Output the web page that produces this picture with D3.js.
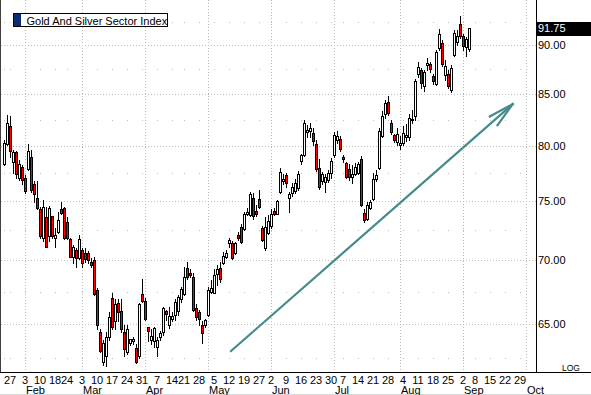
<!DOCTYPE html>
<html>
<head>
<meta charset="utf-8">
<script src="https://cdnjs.cloudflare.com/ajax/libs/d3/7.8.5/d3.min.js"></script>
<style>
  body { margin: 0; background: #fff; }
  svg { display: block; font-family: "Liberation Sans", Arial, sans-serif; }
</style>
</head>
<body>
<div id="chart"></div>
<script>
var width = 591, height = 395;
var plotRight = 536, plotBottom = 372;

// trading calendar (2003), first bar is Jan 23
var firstDay = "2003-01-23", lastDay = "2003-10-03";
var holidays = ["2003-02-17", "2003-04-18", "2003-05-26", "2003-07-04", "2003-09-01"];

// daily bars
var open = [
  78.3, 80.2, 81.9, 78.5, 79.4, 77.1, 78.1, 77.1, 77.9, 79.0,
  76.5, 75.3, 74.3, 71.9, 73.6, 72.0, 73.7, 71.9, 72.4, 74.3,
  74.4, 73.2, 71.8, 70.3, 70.9, 70.2, 70.9, 70.6, 70.6, 69.9,
  70.0, 67.6, 64.4, 62.2, 62.6, 64.0, 67.0, 65.2, 66.6, 66.0,
  64.4, 62.9, 63.6, 63.7, 63.2, 62.6, 67.3, 66.8, 64.8, 63.8,
  63.7, 63.3, 64.0, 64.4, 66.0, 64.9, 65.4, 65.7, 66.0, 66.9,
  67.3, 69.4, 69.0, 68.7, 66.2, 65.9, 64.9, 64.9, 65.7, 67.5,
  67.4, 68.9, 69.4, 69.8, 70.3, 71.4, 71.4, 70.6, 72.1, 72.8,
  72.6, 73.9, 73.8, 75.3, 74.2, 75.2, 72.7, 71.0, 72.3, 72.9,
  74.2, 73.9, 75.8, 76.8, 77.3, 75.3, 75.7, 75.9, 76.2, 78.6,
  79.2, 81.3, 81.4, 81.2, 80.2, 78.0, 76.8, 76.7, 76.9, 77.5,
  79.2, 80.6, 80.7, 79.0, 78.4, 77.9, 77.2, 77.4, 77.5, 78.8,
  74.0, 73.5, 74.4, 75.2, 77.0, 78.0, 80.9, 83.0, 84.2, 82.2,
  81.0, 80.4, 80.1, 80.3, 80.8, 80.8, 82.5, 82.8, 87.0, 87.4,
  85.8, 87.9, 88.0, 86.8, 86.0, 89.7, 90.2, 86.9, 87.0, 85.4,
  89.0, 90.3, 92.2, 90.9, 89.8, 89.6
];
var high = [
  80.6, 82.9, 82.8, 79.6, 79.5, 78.7, 78.2, 77.3, 80.2, 79.6,
  76.8, 76.8, 74.5, 75.1, 74.5, 74.6, 73.7, 72.7, 74.1, 74.9,
  74.5, 73.6, 71.9, 71.3, 71.0, 72.1, 71.0, 71.0, 70.8, 70.2,
  70.3, 67.8, 64.6, 63.8, 64.4, 65.9, 67.4, 66.9, 66.9, 66.9,
  64.9, 64.9, 63.9, 64.0, 63.5, 66.6, 68.5, 67.0, 64.8, 64.6,
  64.8, 64.0, 64.5, 66.3, 66.1, 66.3, 65.9, 66.9, 67.2, 67.9,
  69.5, 69.9, 69.3, 69.0, 66.5, 66.1, 65.2, 65.4, 67.9, 68.4,
  69.3, 69.6, 69.9, 70.7, 70.9, 71.9, 71.6, 71.5, 72.4, 73.0,
  74.1, 74.4, 75.8, 75.7, 74.7, 76.0, 72.9, 73.6, 73.8, 74.3,
  74.4, 75.1, 78.0, 77.4, 77.5, 75.8, 76.6, 77.0, 77.7, 79.3,
  82.5, 82.0, 82.2, 81.7, 80.6, 78.8, 77.6, 77.4, 77.8, 78.9,
  81.3, 81.4, 80.9, 79.2, 78.5, 78.3, 78.2, 78.4, 78.5, 79.1,
  74.3, 74.9, 75.1, 77.5, 77.8, 81.7, 83.3, 84.4, 84.8, 82.5,
  81.1, 81.7, 80.9, 81.9, 82.1, 83.0, 83.4, 86.5, 88.2, 87.6,
  87.4, 88.6, 88.2, 87.0, 89.5, 91.7, 90.5, 88.4, 87.4, 87.9,
  91.6, 91.6, 93.1, 91.2, 90.8, 91.8
];
var low = [
  78.2, 80.1, 79.0, 77.5, 77.1, 76.9, 76.5, 75.7, 77.8, 75.8,
  74.9, 74.3, 71.9, 71.6, 71.1, 71.6, 71.9, 71.1, 72.3, 73.9,
  71.8, 71.8, 70.3, 69.8, 69.5, 70.1, 69.5, 69.9, 69.8, 69.5,
  67.2, 64.6, 62.9, 62.0, 61.9, 63.8, 64.6, 64.6, 65.2, 64.4,
  62.6, 62.8, 63.4, 63.5, 62.1, 62.5, 66.7, 65.3, 63.7, 63.5,
  63.3, 62.6, 63.8, 64.2, 65.3, 64.7, 65.2, 65.3, 65.7, 66.7,
  67.2, 68.5, 68.7, 66.0, 65.3, 64.9, 63.6, 64.8, 65.6, 67.4,
  67.4, 68.0, 68.3, 69.7, 70.2, 71.1, 70.1, 70.5, 71.7, 71.4,
  72.5, 73.8, 73.7, 73.5, 73.7, 74.4, 71.6, 70.9, 72.2, 72.7,
  73.8, 73.9, 75.7, 76.5, 76.3, 74.1, 75.5, 75.7, 76.0, 78.3,
  79.1, 80.8, 80.8, 80.1, 77.7, 76.1, 76.5, 75.8, 76.7, 77.1,
  79.0, 80.3, 79.5, 78.5, 77.1, 76.9, 76.6, 77.3, 77.4, 74.6,
  73.2, 73.4, 74.3, 75.1, 76.8, 77.9, 80.8, 82.7, 82.9, 81.1,
  80.4, 80.1, 79.7, 80.1, 80.5, 80.6, 82.2, 82.5, 86.7, 85.6,
  85.3, 87.4, 87.2, 86.0, 85.9, 89.5, 87.8, 86.4, 85.6, 85.2,
  88.9, 90.0, 90.7, 89.5, 88.9, 89.4
];
var close = [
  80.3, 82.2, 79.5, 79.4, 77.4, 78.3, 76.9, 75.9, 79.5, 76.0,
  75.6, 74.4, 72.0, 74.5, 71.1, 74.4, 72.0, 72.1, 73.4, 74.0,
  71.9, 71.9, 70.3, 71.1, 70.2, 71.8, 69.8, 70.1, 70.0, 69.6,
  67.3, 64.9, 63.0, 63.6, 64.0, 65.5, 64.8, 66.5, 65.9, 64.6,
  63.1, 64.6, 63.9, 63.9, 62.2, 66.5, 66.8, 65.4, 64.5, 64.1,
  64.7, 63.8, 64.3, 66.2, 65.8, 65.6, 65.6, 66.7, 67.1, 67.7,
  68.7, 68.7, 68.8, 66.1, 65.5, 65.4, 64.3, 65.3, 67.6, 67.8,
  68.8, 69.3, 68.5, 70.4, 70.6, 71.7, 70.2, 71.4, 71.9, 71.5,
  73.9, 74.1, 75.6, 73.7, 73.9, 74.5, 71.7, 72.8, 73.3, 73.9,
  73.9, 75.0, 77.6, 77.0, 76.6, 75.6, 76.3, 76.6, 77.4, 79.2,
  82.2, 81.5, 81.7, 80.5, 77.9, 76.3, 77.4, 77.2, 77.5, 78.6,
  81.0, 80.9, 79.7, 78.8, 77.2, 77.2, 77.4, 78.1, 78.3, 74.7,
  73.4, 74.7, 74.9, 77.0, 77.3, 81.4, 82.8, 84.1, 83.1, 81.3,
  80.6, 81.1, 80.3, 81.2, 81.0, 82.7, 82.6, 86.3, 87.7, 86.1,
  87.2, 88.1, 87.5, 86.3, 89.3, 91.2, 88.0, 87.8, 85.8, 87.6,
  91.3, 90.9, 90.9, 89.9, 90.6, 91.75
];

var priceTicks = [65, 70, 75, 80, 85, 90];
var halfLevels = [62.5, 67.5, 72.5, 77.5, 82.5, 87.5, 92.5];
var lastPrice = 91.75;
var seriesName = "Gold And Silver Sector Index";
// trend arrow, in bar index / price
var arrowFrom = {k: 75.5, price: 62.98};
var arrowTo = {k: 169.4, price: 84.0};

var parse = d3.timeParse("%Y-%m-%d");
var fmt = d3.timeFormat("%Y-%m-%d");
var days = d3.timeDay.range(parse(firstDay), d3.timeDay.offset(parse(lastDay), 1))
  .filter(function(d) { return d.getDay() > 0 && d.getDay() < 6 && holidays.indexOf(fmt(d)) < 0; });

var bars = open.map(function(o, k) {
  return {k: k, open: o, high: high[k], low: low[k], close: close[k]};
});

// first trading day of each week / month
var weekStarts = [], monthStarts = [];
days.forEach(function(d, k) {
  if (k == 0) return;
  var p = days[k - 1];
  if (d.getDay() < p.getDay() || (d - p) > 4 * 864e5) weekStarts.push({k: k, date: d});
  if (d.getMonth() != p.getMonth()) monthStarts.push({k: k, date: d});
});

var x = d3.scaleLinear().domain([2, 174]).range([10.5, 526.5]);
var y = d3.scaleLog().domain([65, 90]).range([324, 45]);

var svg = d3.select("#chart").append("svg")
  .attr("width", width)
  .attr("height", height);

var grid = svg.append("g").attr("shape-rendering", "crispEdges");

// horizontal dotted grid at the price ticks
grid.selectAll("line.h")
  .data(priceTicks)
  .enter().append("line")
  .attr("x1", 1).attr("x2", plotRight)
  .attr("y1", function(d) { return Math.round(y(d)) + 0.5; })
  .attr("y2", function(d) { return Math.round(y(d)) + 0.5; })
  .style("stroke", "#bdbdbd")
  .style("stroke-dasharray", "1,2");

// vertical dotted grid at month starts
grid.selectAll("line.v")
  .data(monthStarts)
  .enter().append("line")
  .attr("x1", function(d) { return Math.floor(x(d.k)) + 0.5; })
  .attr("x2", function(d) { return Math.floor(x(d.k)) + 0.5; })
  .attr("y1", 0).attr("y2", plotBottom)
  .style("stroke", "#bdbdbd")
  .style("stroke-dasharray", "1,2");

// sparse dots: weeks x half levels
var dots = [];
[{k: 0}].concat(weekStarts).forEach(function(w) {
  halfLevels.forEach(function(l) { dots.push({k: w.k, level: l}); });
});
grid.selectAll("rect.dot")
  .data(dots)
  .enter().append("rect")
  .attr("x", function(d) { return Math.floor(x(d.k)); })
  .attr("y", function(d) { return Math.round(y(d.level)); })
  .attr("width", 1).attr("height", 1)
  .style("fill", "#bdbdbd");

// candles
var candles = svg.append("g").attr("shape-rendering", "crispEdges");
candles.selectAll("line.wick")
  .data(bars)
  .enter().append("line")
  .attr("x1", function(d) { return x(d.k); })
  .attr("x2", function(d) { return x(d.k); })
  .attr("y1", function(d) { return Math.round(y(d.high)); })
  .attr("y2", function(d) { return Math.round(y(d.low)) + 1; })
  .style("stroke", "#000");

candles.selectAll("rect.body")
  .data(bars)
  .enter().append("rect")
  .attr("x", function(d) { return x(d.k) - 1; })
  .attr("y", function(d) { return Math.round(y(Math.max(d.open, d.close))) + 0.5; })
  .attr("width", 2)
  .attr("height", function(d) {
    var h = Math.round(y(Math.min(d.open, d.close))) - Math.round(y(Math.max(d.open, d.close)));
    return Math.max(h, 1);
  })
  .style("fill", function(d) { return d.close < d.open ? "#ff0000" : "#ffffff"; })
  .style("stroke", "#000");

// trend arrow
var ax0 = x(arrowFrom.k), ay0 = y(arrowFrom.price);
var ax1 = x(arrowTo.k), ay1 = y(arrowTo.price);
var ang = Math.atan2(ay0 - ay1, ax0 - ax1);
var barb = 26, spread = 13 * Math.PI / 180;
var arrowLines = [
  [ax0, ay0, ax1, ay1],
  [ax1, ay1, ax1 + barb * Math.cos(ang - spread), ay1 + barb * Math.sin(ang - spread)],
  [ax1, ay1, ax1 + barb * Math.cos(ang + spread), ay1 + barb * Math.sin(ang + spread)]
];
svg.append("g").selectAll("line")
  .data(arrowLines)
  .enter().append("line")
  .attr("x1", function(d) { return d[0]; })
  .attr("y1", function(d) { return d[1]; })
  .attr("x2", function(d) { return d[2]; })
  .attr("y2", function(d) { return d[3]; })
  .style("stroke", "#468a8a")
  .style("stroke-width", 2.2)
  .style("stroke-linecap", "square");

// frame
var frame = svg.append("g").attr("shape-rendering", "crispEdges");
frame.append("line").attr("x1", 0.5).attr("x2", 0.5).attr("y1", 0).attr("y2", plotBottom)
  .style("stroke", "#404040");
frame.append("line").attr("x1", plotRight + 0.5).attr("x2", plotRight + 0.5).attr("y1", 0).attr("y2", plotBottom)
  .style("stroke", "#000");
frame.append("line").attr("x1", 0).attr("x2", width).attr("y1", plotBottom + 0.5).attr("y2", plotBottom + 0.5)
  .style("stroke", "#000");
frame.append("line").attr("x1", 0).attr("x2", width).attr("y1", height - 0.5).attr("y2", height - 0.5)
  .style("stroke", "#d8d8d8");

// right price axis
svg.append("g").selectAll("text")
  .data(priceTicks)
  .enter().append("text")
  .attr("x", plotRight + 2)
  .attr("y", function(d) { return y(d) + 4; })
  .style("font-size", "11px")
  .text(function(d) { return d.toFixed(2); });

var lastY = y(lastPrice);
svg.append("rect")
  .attr("x", plotRight + 1).attr("y", Math.round(lastY) - 6)
  .attr("width", width - plotRight - 1).attr("height", 14)
  .style("fill", "#000");
svg.append("text")
  .attr("x", plotRight + 2).attr("y", lastY + 4)
  .style("font-size", "11px").style("fill", "#fff")
  .text(lastPrice.toFixed(2));

svg.append("text")
  .attr("x", 562).attr("y", 370.5)
  .style("font-size", "8.5px")
  .text("LOG");

// date axis
svg.append("g").selectAll("text")
  .data(weekStarts.filter(function(d) { return x(d.k) < plotRight; }))
  .enter().append("text")
  .attr("x", function(d) { return x(d.k) - 0.5; })
  .attr("y", 384)
  .attr("text-anchor", "middle")
  .style("font-size", "11px")
  .text(function(d) { return d3.timeFormat("%-d")(d.date); });

svg.append("g").selectAll("text")
  .data(monthStarts)
  .enter().append("text")
  .attr("x", function(d) { return x(d.k) + 0.5; })
  .attr("y", 393.5)
  .style("font-size", "11px")
  .text(function(d) { return d3.timeFormat("%b")(d.date); });

// legend
var legend = svg.append("g").attr("shape-rendering", "crispEdges");
legend.append("rect")
  .attr("x", 13.5).attr("y", 13.5).attr("width", 154).attr("height", 13)
  .style("fill", "#fff").style("stroke", "#000");
legend.append("rect")
  .attr("x", 14).attr("y", 14).attr("width", 7).attr("height", 12)
  .style("fill", "#0d2a74");
legend.append("text")
  .attr("x", 26.5).attr("y", 24.5)
  .style("font-size", "11px")
  .text(seriesName);
</script>
</body>
</html>
